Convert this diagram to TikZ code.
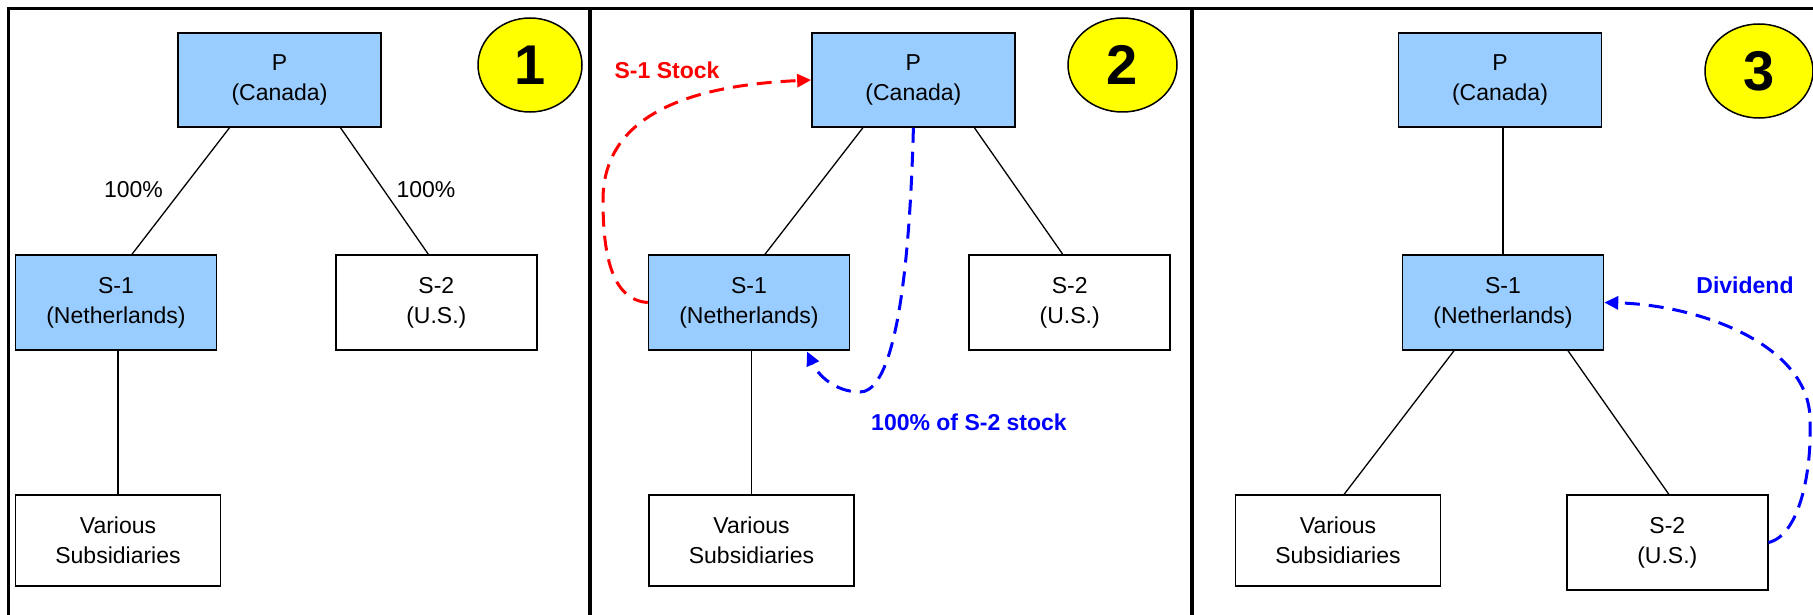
\documentclass[tikz,border=0pt]{standalone}
\usepackage{fontspec}
\setmainfont{Liberation Sans}
\usetikzlibrary{arrows.meta,shapes.geometric}
\definecolor{boxblue}{HTML}{99CCFF}
\definecolor{badge}{HTML}{FFFF00}
\definecolor{arrred}{HTML}{FF0000}
\definecolor{arrblue}{HTML}{0000FF}
\tikzset{
  entity/.style={draw=black, line width=1.5pt, inner sep=0pt, minimum width=201pt, minimum height=95pt,
    align=center, font=\fontsize{23}{30}\selectfont},
  bluebox/.style={entity, fill=boxblue},
  whitebox/.style={entity, fill=white},
  badgenode/.style={ellipse, draw=black, line width=1.5pt, fill=badge, inner sep=0pt,
    font=\fontsize{56}{60}\selectfont\bfseries},
  link/.style={draw=black, line width=1.3pt},
  pct/.style={font=\fontsize{23}{28}\selectfont},
  flowlabel/.style={font=\fontsize{23}{28}\selectfont\bfseries},
  redflow/.style={draw=arrred, line width=3pt, dash pattern=on 15pt off 9pt, -{Triangle[length=14pt,width=13pt]}},
  blueflow/.style={draw=arrblue, line width=3pt, dash pattern=on 15pt off 9pt, -{Triangle[length=14pt,width=13pt]}},
  frame/.style={draw=black, line width=3.3pt}
}
\begin{document}
\begin{tikzpicture}[x=1pt,y=-1pt]
\useasboundingbox (0,0) rectangle (1813,615);
\fill[white] (0,0) rectangle (1813,615);
% frame
\draw[frame] (8.6,615) -- (8.6,8.3) -- (1813,8.3);
\draw[frame] (590,8.3) -- (590,615);
\draw[frame] (1192,8.3) -- (1192,615);

% ---------- Panel 1 ----------
\node[bluebox, minimum width=203pt, minimum height=94pt] (p1) at (279.5,80) {P\\(Canada)};
\node[bluebox] (s11) at (116,302.5) {S-1\\(Netherlands)};
\node[whitebox] (s21) at (436.3,302.5) {S-2\\(U.S.)};
\node[whitebox, minimum width=205pt, minimum height=91pt] (v1) at (118,540.7) {Various\\Subsidiaries};
\node[badgenode, minimum width=104pt, minimum height=94pt] (c1) at (530,65) {1};
\draw[link] ([xshift=-50pt]p1.south) -- ([xshift=16pt]s11.north);
\draw[link] ([xshift=61pt]p1.south) -- ([xshift=-8pt]s21.north);
\draw[link] (v1.north |- s11.south) -- (v1.north);
\node[pct] (pa) at (133.5,190) {100\%};
\node[pct] (pb) at (426,190) {100\%};

% ---------- Panel 2 ----------
\node[bluebox, minimum width=203pt, minimum height=94pt] (p2) at (913.4,80) {P\\(Canada)};
\node[bluebox] (s12) at (749,302.5) {S-1\\(Netherlands)};
\node[whitebox] (s22) at (1069.7,302.5) {S-2\\(U.S.)};
\node[whitebox, minimum width=205pt, minimum height=91pt] (v2) at (751.5,540.7) {Various\\Subsidiaries};
\node[badgenode, minimum width=109pt, minimum height=94pt] (c2) at (1122.5,65) {2};
\draw[link] ([xshift=-50.5pt]p2.south) -- ([xshift=16pt]s12.north);
\draw[link] ([xshift=61pt]p2.south) -- ([xshift=-7pt]s22.north);
\draw[link] (v2.north |- s12.south) -- (v2.north);
\draw[redflow] (s12.west) .. controls (610,300) and (603,250) .. (603,200)
  .. controls (603,110) and (700,85) .. (p2.west);
\coordinate (bend2) at (860,392);
\coordinate (tip2) at (807,351.5);
\draw[blueflow] (p2.south) .. controls (908,330) and (885,392) .. (bend2)
  .. controls (835,392) and (818,375) .. (tip2);
\node[flowlabel, text=arrred] (l21) at (667,70) {S-1 Stock};
\node[flowlabel, text=arrblue] (l22) at (969,422) {100\% of S-2 stock};

% ---------- Panel 3 ----------
\node[bluebox, minimum width=203pt, minimum height=94pt] (p3) at (1500,80) {P\\(Canada)};
\node[bluebox] (s13) at (1503,302.5) {S-1\\(Netherlands)};
\node[whitebox, minimum width=205pt, minimum height=91pt] (v3) at (1338,540.7) {Various\\Subsidiaries};
\node[whitebox] (s23) at (1667.3,542.5) {S-2\\(U.S.)};
\node[badgenode, minimum width=108pt, minimum height=94pt] (c3) at (1759,71) {3};
\draw[link] (s13.north |- p3.south) -- (s13.north);
\draw[link] ([xshift=-49pt]s13.south) -- ([xshift=6pt]v3.north);
\draw[link] ([xshift=65pt]s13.south) -- ([xshift=1.5pt]s23.north);
\draw[blueflow] (s23.east) .. controls (1800,535) and (1812,470) .. (1810,420)
  .. controls (1810,345) and (1700,305) .. (s13.east);
\node[flowlabel, text=arrblue] (l31) at (1745,285) {Dividend};
\end{tikzpicture}
\end{document}
